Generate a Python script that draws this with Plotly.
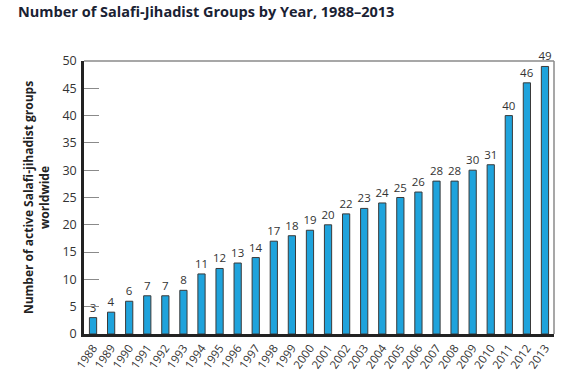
import plotly.graph_objects as go

years = [str(y) for y in range(1988, 2014)]
groups = [3, 4, 6, 7, 7, 8, 11, 12, 13, 14, 17, 18, 19, 20, 22, 23, 24, 25, 26, 28, 28, 30, 31, 40, 46, 49]
y_ticks = [0, 5, 10, 15, 20, 25, 30, 35, 40, 45, 50]

font_family = "Open Sans, Noto Sans, sans-serif"

fig = go.Figure()
fig.add_trace(go.Bar(
    x=years, y=groups,
    text=[str(v) for v in groups],
    textposition="outside",
    constraintext="none",
    textfont=dict(size=11.5, color="#333333", family=font_family),
    cliponaxis=False,
    marker=dict(color="#1fa3dc", line=dict(color="#3a3a3a", width=1)),
))

fig.update_layout(
    width=588, height=371,
    margin=dict(l=84, r=34, t=61, b=37, autoexpand=False),
    paper_bgcolor="white", plot_bgcolor="white",
    bargap=0.6,
    showlegend=False,
    title=dict(text="<b>Number of Salafi-Jihadist Groups by Year, 1988–2013</b>",
               x=18 / 588, xanchor="left", xref="container",
               y=1 - 12 / 371, yanchor="middle",
               font=dict(size=14.5, color="#1a2233", family=font_family)),
    font=dict(family=font_family, color="#333333"),
)

fig.update_yaxes(
    range=[0, 50], tickvals=y_ticks, showgrid=False, automargin=False,
    ticks="inside", ticklen=15, tickcolor="#8a8a8a", tickwidth=1.2,
    ticklabelstandoff=2,
    showline=True, linecolor="#222222", linewidth=2.5,
    tickfont=dict(size=12.5, color="#333333"),
    title=dict(text="<b>Number of active Salafi-jihadist groups<br>worldwide</b>",
               font=dict(size=12, color="#222222"), standoff=11),
    mirror=False, zeroline=False,
)
fig.update_xaxes(
    type="category", showgrid=False, tickangle=-55, automargin=False,
    showline=True, linecolor="#222222", linewidth=2.5,
    tickfont=dict(size=11.5, color="#333333"), ticks="",
)

# light gray frame on top and right
fig.add_shape(type="line", xref="paper", yref="paper", x0=0, x1=1, y0=1, y1=1,
              line=dict(color="#8a8a8a", width=1.5))
fig.add_shape(type="line", xref="paper", yref="paper", x0=1, x1=1, y0=0, y1=1,
              line=dict(color="#8a8a8a", width=1.5))

fig.write_html(
    "out.html",
    config={"displayModeBar": False},
    post_script="document.body.style.margin='0';document.body.style.overflow='hidden';",
)
